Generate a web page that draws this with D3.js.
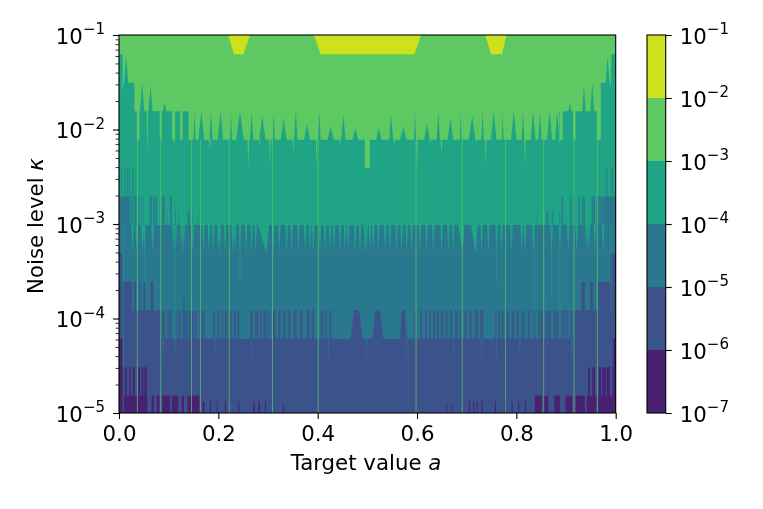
<!DOCTYPE html>
<html><head><meta charset="utf-8">
<script src="https://cdn.jsdelivr.net/npm/d3@7"></script>
<style>
html,body{margin:0;padding:0;background:#fff}
svg{filter:blur(0.35px)}
svg text{font-family:"DejaVu Sans",sans-serif;fill:#000}
</style></head><body><svg id="c" width="763" height="509"></svg>
<script>
// ---- data: kappa is written as its exponent n, kappa = 2^-n (the grid of the contour plot)
const levels=[1e-7,1e-6,1e-5,1e-4,1e-3,1e-2,1e-1];
const bandColors=["#482173","#3b528b","#2a788e","#20a486","#5ec962","#cde11d"];
const xTicks=[0,0.2,0.4,0.6,0.8,1];
const yMajor=[1e-5,1e-4,1e-3,1e-2,1e-1];
const yMinorFactors=[2,3,4,5,6,7,8,9];
const yellowRegions=[[0.220,0.2316,0.2504,0.264],[0.3927,0.406,0.595,0.608],[0.737,0.749,0.771,0.780]];
const yellowN=4;
// boundary 1e-3
const edge3Steps=[[0,4],[.0074,5],[.031,6],[.036,7],[.041,6],[.082,7],[.086,6],[.107,7],[.113,6],[.123,7],[.128,6],[.140,7],[.495,8],[.505,7],[.886,6],[.887,7],[.893,6],[.914,7],[.919,6],[.962,7],[.970,5],[.990,4],[1,4]];
const edge3Peaks=[[.010,.0188,4.05],[.042,.051,5],[.059,.068,5.1],[.088,.096,5.7],
[.1496,.1543,6],[.1597,.1718,6],[.1818,.1886,6],[.1986,.2100,6],[.2234,.2275,6],[.2355,.2516,6],[.2637,.2704,6],[.2818,.2952,6.16],[.3093,.3140,6.03],[.3254,.3375,6.25],[.3523,.3597,6],[.3724,.3845,6.45],[.4006,.4060,6],[.4194,.4328,6.54],[.4469,.4563,6.13],[.4697,.4818,6.6],
[.5173,.5288,6.6],[.5435,.5522,6.13],[.5657,.5791,6.54],[.5938,.5979,6],[.6140,.6260,6.45],[.6395,.6462,6],[.6616,.6730,6.25],[.6864,.6898,6],[.7039,.7180,6.16],[.7294,.7347,6],[.7488,.7602,6],[.7710,.7743,6],[.7891,.8005,6],[.8106,.8159,6],[.8287,.8388,6],[.8441,.8508,6],[.8616,.8723,6],[.8777,.8864,6],
[.9045,.9112,5.7],[.9327,.9394,5.1],[.9488,.9568,5],[.9797,.9877,4.05]];
const edge3Dips=[[.0074,5.35],[.057,7.65],[.1107,7.18],[.183,7.35],[.2603,8],[.2825,7.2],[.304,8],[.351,7.5],[.398,8],[.445,7.25],[.5537,7.25],[.600,8],[.626,7.15],[.649,7.5],[.7187,7.1],[.7382,8],[.8174,8],[.8877,7.15],[.990,5.4]];
// boundary 1e-4
const edge4Steps=[[0,9],[.022,10],[.975,9],[1,9]];
const edge4Stripes=[[.0007,.0020,8],[.0040,.0060,8],[.0101,.0127,8],[.0154,.0181,8],[.0195,.0221,8],[.0262,.0289,8],[.0315,.0329,8],
[.0235,.0262,9],[.0302,.0356,9],[.0389,.0409,9],[.0436,.0450,9],[.0490,.0503,9],[.0611,.0664,9],[.0691,.0731,9],[.0745,.0772,9],[.0859,.0926,9],[.1027,.1067,9],
[.096,.0973,9.5],[.1127,.1147,9.5],[.1194,.1208,9.5],[.1376,.1429,9.5],[.1597,.1610,9.5],[.1463,.1476,9.5],
[.8408,.8421,9.5],[.8603,.8643,9.5],[.8710,.8743,9.5],[.8870,.8884,9.5],
[.8911,.8944,9],[.9079,.9112,9],[.9146,.9179,9],[.9246,.9280,9],[.9327,.9381,9],[.9515,.9582,9],[.9615,.9750,9],[.9797,.9837,8],[.9904,.9951,8]];
const edge4Dips=[.0275,.0356,.0470,.0510,.0678,.1094,.1141,.1261,.1302,.1483,.1698,.1812,.1899,.2000,.2033,.2134,.2288,.2335,.2436,.2557,.2671,.2751,.3107,.3228,.3375,.3476,.3610,.3744,.3845,.3912,.4046,.4147,.4247,.4328,.4449,.4549,.4616,.4751,.4851,.4952,.4985,.5053,.5120,.5220,.5355,.5455,.5590,.5690,.5791,.5892,.6059,.6193,.6327,.6495,.6630,.6730,.7300,.7435,.7602,.7703,.7904,.8106,.8173,.8341,.8709,.8877,.9045,.9213,.9414,.9461,.9582,.9750];
const edge4WideDips=[[.2805,.3026],[.6831,.6952],[.7086,.7220]];
const edge4DipN=11;
// boundary 1e-5
const edge5Steps=[[0,11],[.007,12],[.022,13],[.083,14],[.918,13],[.965,12],[.989,11],[1,11]];
const edge5Stripes=[[.0221,.0262,12],[.0302,.0342,12],[.0409,.0436,12],[.0490,.0523,12],[.0638,.0691,12],[.1300,.1316,12.6],[.9313,.9380,12],[.9481,.9548,12],
[.0859,.0926,13],[.0973,.1060,13],[.1161,.1241,13],[.1282,.1396,13],[.1416,.1577,13],[.1617,.1731,13],[.1899,.1933,13],[.1979,.2020,13],[.2067,.2100,13],[.2134,.2181,13],[.2221,.2268,13],[.2315,.2355,13],[.2382,.2422,13],[.2637,.2691,13],[.2738,.2805,13],[.2838,.2879,13],[.2905,.2972,13],[.3006,.3040,13],[.3093,.3160,13],[.3207,.3254,13],[.3308,.3355,13],[.3409,.3456,13],[.3509,.3576,13],[.3644,.3697,13],[.3778,.3845,13],[.3878,.3925,13],[.4060,.4113,13],[.4147,.4180,13],[.4234,.4281,13],
[.5945,.5972,13],[.6059,.6106,13],[.6160,.6200,13],[.6240,.6280,13],[.6327,.6361,13],[.6395,.6442,13],[.6482,.6529,13],[.6576,.6616,13],[.6663,.6710,13],[.6764,.6817,13],[.6864,.6898,13],[.6952,.6999,13],[.7046,.7099,13],[.7166,.7233,13],[.7267,.7334,13],[.7569,.7602,13],[.7636,.7669,13],[.7703,.7743,13],[.7804,.7851,13],[.7904,.7958,13],[.8005,.8052,13],[.8106,.8159,13],[.8240,.8273,13],[.8341,.8388,13],[.8441,.8542,13],[.8576,.8696,13],[.8743,.8844,13],[.8911,.9045,13],[.9079,.9180,13]];
const edge5Gaps=[.1000,.1201,.1335,.1463,.1530,.1664,.1711,.8475,.8630,.8791,.8965,.9011,.9125];
const edge5Lumps=[[.4664,.4905,13],[.5100,.5321,13],[.5657,.5791,13]];
const edge5Dips=[.0892,.1127,.1933,.2671,.4214,.4985,.5791,.6730,.7300,.7602,.8072,.9112];
const edge5DipN=15;
// boundary 1e-6
const edge6Steps=[[0,14],[.007,17],[.9951,14],[1,14]];
const edge6Stripes=[[.0067,.0101,15],[.0121,.0154,15],[.0208,.0235,15],[.0275,.0315,15],[.0389,.0423,15],[.0456,.0490,15],[.0510,.0557,15],
[.0087,.0570,16],[.0658,.0705,16],[.0758,.0812,16],[.0872,.1027,16],[.1060,.1194,16],[.1261,.1308,16],[.1376,.1617,16],
[.1684,.1718,16.2],[.1832,.1852,16.2],[.1965,.1979,16.2],[.2134,.2154,16.2],[.2402,.2422,16.2],[.2704,.2731,16.2],[.2805,.2838,16.2],[.2939,.2959,16.2],[.3300,.3320,16.3],
[.6596,.6610,16.3],[.6696,.6710,16.3],[.7046,.7066,16.2],[.7133,.7153,16.2],[.7200,.7220,16.2],[.7300,.7320,16.2],[.7569,.7589,16.2],[.7770,.7790,16.2],[.7904,.7924,16.2],[.8039,.8059,16.2],[.8173,.8193,16.2],
[.8375,.8508,16],[.8542,.8643,16],[.8764,.8877,16],[.8991,.9125,16],[.9193,.9380,16],[.9414,.9616,16],[.9649,.9951,16],
[.9448,.9482,15],[.9529,.9582,15],[.9662,.9702,15],[.9729,.9796,15],[.9816,.9883,15],[.9931,.9951,15]];
// thin columns of raised value
const fullLines=[.037,.084,.146,.164,.222,.309,.401,.598,.691,.778,.855,.916,.963];
const faintLines=[[.0087,17],[.052,12],[.1127,13],[.2436,12],[.7602,12],[.8367,14],[.871,12.5],[.8877,13],[.9906,13]];

// ---- scales and layout
const svg=d3.select("#c");
const plotL=119,plotR=615.7,plotT=35,plotB=413;
const x=d3.scaleLinear([0,1],[plotL,plotR]);
const y=d3.scaleLog([1e-5,1e-1],[plotB,plotT]);
const kap=n=>Math.pow(2,-n);
const yn=n=>y(kap(n));
svg.append("clipPath").attr("id","plot").append("rect").attr("x",plotL).attr("y",plotT).attr("width",plotR-plotL).attr("height",plotB-plotT);
const g=svg.append("g").attr("clip-path","url(#plot)");
const stepAt=(steps,a)=>{let v=steps[0][1];for(const s of steps){if(s[0]<=a)v=s[1];}return v;};
const area=d3.area().x(d=>x(d[0])).y0(plotB+5).y1(d=>yn(d[1])).curve(d3.curveStepAfter);
const poly=d3.line().x(d=>x(d[0])).y(d=>yn(d[1]));
const C=i=>bandColors[i];

g.append("rect").attr("x",plotL).attr("y",plotT).attr("width",plotR-plotL).attr("height",plotB-plotT).attr("fill",C(4));
g.selectAll(".yel").data(yellowRegions).join("path").attr("class","yel").attr("fill",C(5))
 .attr("d",d=>d3.line()([[x(d[0]),y(1e-1)],[x(d[1]),yn(yellowN)],[x(d[2]),yn(yellowN)],[x(d[3]),y(1e-1)]])+"Z");

function tri(cls,data,color,fn){return g.selectAll("."+cls).data(data).join("path").attr("class",cls).attr("fill",color).attr("d",d=>poly(fn(d))+"Z");}
function stripes(cls,data,color,steps){
 return g.selectAll("."+cls).data(data).join("rect").attr("class",cls).attr("fill",color)
  .attr("x",d=>x(d[0])).attr("width",d=>x(d[1])-x(d[0])).attr("y",d=>yn(d[2]))
  .attr("height",d=>Math.max(0,Math.min(plotB+5,yn(stepAt(steps,(d[0]+d[1])/2))+1)-yn(d[2])));
}
// boundary 1e-3
g.append("path").datum(edge3Steps).attr("fill",C(3)).attr("d",area);
tri("p3",edge3Peaks,C(3),d=>{const m=(d[0]+d[1])/2,b=stepAt(edge3Steps,m)+.03;return [[d[0],b],[m,d[2]],[d[1],b]];});
tri("d3",edge3Dips,C(4),d=>{const b=stepAt(edge3Steps,d[0])-.03;return [[d[0]-.0014,b],[d[0],d[1]],[d[0]+.0014,b]];});
// boundary 1e-4
g.append("path").datum(edge4Steps).attr("fill",C(2)).attr("d",area);
stripes("s4",edge4Stripes,C(2),edge4Steps).attr("opacity",d=>d[2]==8?.5:.8);
tri("d4",edge4Dips,C(3),d=>[[d-.0026,10],[d,edge4DipN],[d+.0026,10]]);
tri("w4",edge4WideDips,C(3),d=>[[d[0],10],[d[0]+(d[1]-d[0])*.72,edge4DipN],[d[1],10]]);
// boundary 1e-5
g.append("path").datum(edge5Steps).attr("fill",C(1)).attr("d",area);
g.selectAll(".s5").data(edge5Stripes).join("rect").attr("class","s5").attr("fill",C(1)).attr("opacity",d=>d[2]==13?.8:1)
 .attr("x",d=>x(d[0])).attr("width",d=>x(d[1])-x(d[0])).attr("y",d=>yn(d[2]))
 .attr("height",d=>yn(stepAt(edge5Steps,(d[0]+d[1])/2))+1-yn(d[2]));
g.selectAll(".g5").data(edge5Gaps).join("line").attr("class","g5").attr("stroke",C(2)).attr("stroke-width",.8).attr("opacity",.7)
 .attr("x1",d=>x(d)).attr("x2",d=>x(d)).attr("y1",yn(13)).attr("y2",yn(14));
tri("l5",edge5Lumps,C(1),d=>[[d[0],14],[d[0]+(d[1]-d[0])*.3,d[2]],[d[0]+(d[1]-d[0])*.7,d[2]],[d[1],14]]);
tri("d5",edge5Dips,C(2),d=>[[d-.001,14],[d,edge5DipN],[d+.001,14]]);
// boundary 1e-6
g.append("path").datum(edge6Steps).attr("fill",C(0)).attr("d",area);
stripes("s6",edge6Stripes,C(0),[[0,17]]);
// thin columns
g.selectAll(".fl").data(faintLines).join("line").attr("class","fl").attr("stroke",C(3)).attr("stroke-width",.7).attr("opacity",.75)
 .attr("x1",d=>x(d[0])).attr("x2",d=>x(d[0])).attr("y1",yn(10)).attr("y2",d=>yn(d[1]));
g.selectAll(".ln").data(fullLines).join("line").attr("class","ln").attr("stroke",C(4)).attr("stroke-width",.85).attr("opacity",.85)
 .attr("x1",d=>x(d)).attr("x2",d=>x(d)).attr("y1",yn(7)).attr("y2",plotB);

// ---- axes
const minor=[];yMajor.slice(0,-1).forEach(m=>yMinorFactors.forEach(f=>minor.push(m*f)));
const FS=21.3,ES=15;
function power(sel,v){const e=Math.round(Math.log10(v));sel.text("10").append("tspan").attr("dy",-9.3).attr("font-size",ES).text("\u2212"+Math.abs(e));}
function style(a){a.selectAll("path.domain").remove();a.selectAll("line").attr("stroke","#000").attr("stroke-width",1.1);}
const gx=svg.append("g").attr("transform",`translate(0,${plotB})`).call(d3.axisBottom(x).tickValues(xTicks).tickFormat(d3.format(".1f")).tickSize(6));
style(gx);gx.selectAll("text").attr("font-size",FS).attr("y",8).attr("dy","0.95em");
const gm=svg.append("g").attr("transform",`translate(${plotL},0)`).call(d3.axisLeft(y).tickValues(minor).tickFormat("").tickSize(3.5));
style(gm);gm.selectAll("line").attr("stroke-width",.8);
const gy=svg.append("g").attr("transform",`translate(${plotL},0)`).call(d3.axisLeft(y).tickValues(yMajor).tickSize(6));
style(gy);gy.selectAll("text").attr("font-size",FS).attr("x",-14).attr("dy",8).each(function(d){power(d3.select(this),d);});
svg.append("rect").attr("x",plotL).attr("y",plotT).attr("width",plotR-plotL).attr("height",plotB-plotT).attr("fill","none").attr("stroke","#000").attr("stroke-width",1.1);

const xl=svg.append("text").attr("x",366).attr("y",470).attr("text-anchor","middle").attr("font-size",FS).text("Target value ");
xl.append("tspan").attr("font-style","italic").text("a");
const yl=svg.append("text").attr("transform","translate(43,226) rotate(-90)").attr("text-anchor","middle").attr("font-size",FS).text("Noise level ");
yl.append("tspan").attr("font-style","italic").text("\u03ba");

// ---- colourbar
const cx0=647,cx1=665.7;
const cy=d3.scaleLog([levels[0],levels[levels.length-1]],[plotB,plotT]);
svg.selectAll(".cb").data(bandColors).join("rect").attr("class","cb").attr("x",cx0).attr("width",cx1-cx0)
 .attr("y",(d,i)=>cy(levels[i+1])).attr("height",(d,i)=>cy(levels[i])-cy(levels[i+1])).attr("fill",d=>d);
svg.append("rect").attr("x",cx0).attr("y",plotT).attr("width",cx1-cx0).attr("height",plotB-plotT).attr("fill","none").attr("stroke","#000").attr("stroke-width",1.1);
const gc=svg.append("g").attr("transform",`translate(${cx1},0)`).call(d3.axisRight(cy).tickValues(levels).tickSize(6));
style(gc);gc.selectAll("text").attr("font-size",FS).attr("x",14).attr("dy",8).each(function(d){power(d3.select(this),d);});
svg.selectAll("g text").attr("font-family",'"DejaVu Sans",sans-serif');
</script></body></html>
